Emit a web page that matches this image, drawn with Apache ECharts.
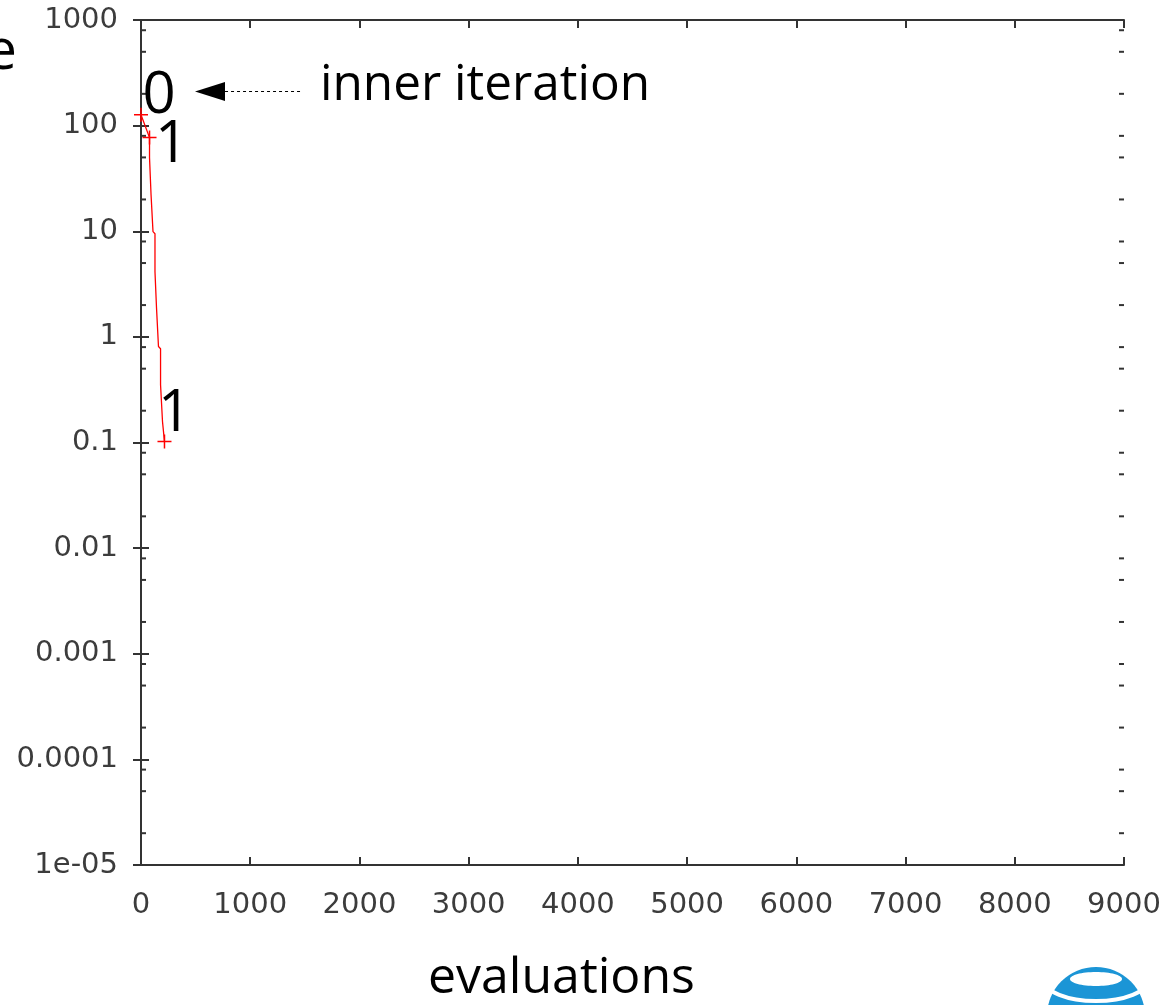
<!DOCTYPE html>
<html>
<head>
<meta charset="utf-8">
<script src="https://cdn.jsdelivr.net/npm/echarts@6/dist/echarts.min.js"></script>
<style>
html,body{margin:0;padding:0;background:#fff;}
#chart{width:1166px;height:1005px;}
</style>
</head>
<body>
<div id="chart"></div>
<script>
// ---- data ----
const evals  = [0, 78, 78, 92, 92, 110, 110, 128, 128, 142, 142, 160, 160, 179, 179, 197, 197, 211, 215];
const values = [127, 77, 49.8, 47.7, 22.2, 21.3, 9.91, 9.48, 4.14, 3.97, 1.89, 1.81, 0.81, 0.773, 0.352, 0.337, 0.157, 0.151, 0.102];
const markerEvals  = [0, 78, 215];
const markerValues = [127, 77, 0.102];
const markerLabels = ['0', '1', '1'];
const xTickLabels = ['0','1000','2000','3000','4000','5000','6000','7000','8000','9000'];
const yTickLabels = ['1e-05','0.0001','0.001','0.01','0.1','1','10','100','1000'];
const minorMultipliers = [2, 5, 8];
const arrowFrom = [1456, 210];
const arrowTo   = [632, 210];

const lineData = evals.map((x, i) => [x, values[i]]);
const labelOffsets = [[18, -18], [22, 8], [10, -27]];
const digitLabel = {
  show: true, position: 'inside',
  fontFamily: '"Open Sans", sans-serif', fontSize: 58, fontWeight: 500,
  color: '#000', textBorderWidth: 0, opacity: 1
};
const markerData = markerEvals.map((x, i) => ({
  value: [x, markerValues[i]],
  label: Object.assign({}, digitLabel, { formatter: markerLabels[i], offset: labelOffsets[i] })
}));
const minorData = [];
for (let k = -5; k < 3; k++) {
  minorMultipliers.forEach(m => minorData.push([0, m * Math.pow(10, k)]));
}

const axisColor = '#333';
const labelFont = { fontFamily: '"DejaVu Sans", sans-serif', fontSize: 29, color: '#3c3c3c' };

const chart = echarts.init(document.getElementById('chart'), null, { renderer: 'canvas' });
chart.setOption({
  animation: false,
  backgroundColor: '#fff',
  textStyle: { fontFamily: '"Open Sans", sans-serif' },
  grid: { left: 141, top: 20, right: 42, bottom: 140, containLabel: false },
  xAxis: [{
    type: 'value', min: 0, max: 9000, interval: 1000,
    axisLine: { show: true, lineStyle: { color: axisColor, width: 2 } },
    axisTick: { show: true, inside: true, length: 8, lineStyle: { color: axisColor, width: 2 } },
    axisLabel: Object.assign({ margin: 26, formatter: (v) => xTickLabels[Math.round(v / 1000)] }, labelFont),
    splitLine: { show: false }
  }, {
    type: 'value', min: 0, max: 9000, interval: 1000, position: 'top',
    axisLine: { show: true, lineStyle: { color: axisColor, width: 2 } },
    axisTick: { show: true, inside: true, length: 8, lineStyle: { color: axisColor, width: 2 } },
    axisLabel: { show: false },
    splitLine: { show: false }
  }],
  yAxis: [{
    type: 'log', logBase: 10, min: 1e-5, max: 1000, interval: 1,
    axisLine: { show: true, lineStyle: { color: axisColor, width: 2 } },
    axisTick: { show: true, inside: true, length: 8, lineStyle: { color: axisColor, width: 2 } },
    axisLabel: Object.assign({ margin: 23, formatter: (v) => yTickLabels[Math.round(Math.log10(v)) + 5] }, labelFont),
    splitLine: { show: false }
  }, {
    type: 'log', logBase: 10, min: 1e-5, max: 1000, interval: 1, position: 'right',
    axisLine: { show: true, lineStyle: { color: axisColor, width: 2 } },
    axisTick: { show: true, inside: true, length: 8, lineStyle: { color: axisColor, width: 2 } },
    axisLabel: { show: false },
    splitLine: { show: false }
  }],
  series: [{
    type: 'custom',
    silent: true,
    data: minorData,
    renderItem: function (params, api) {
      const v = api.value(1);
      const pL = api.coord([0, v]);
      const pR = api.coord([9000, v]);
      const st = { stroke: axisColor, lineWidth: 2 };
      return { type: 'group', children: [
        { type: 'line', shape: { x1: pL[0], y1: pL[1], x2: pL[0] + 5, y2: pL[1] }, style: st },
        { type: 'line', shape: { x1: pR[0] - 5, y1: pR[1], x2: pR[0], y2: pR[1] }, style: st }
      ]};
    },
    z: 1
  }, {
    type: 'line',
    data: lineData,
    showSymbol: false,
    symbol: 'none',
    lineStyle: { color: '#ff0000', width: 1.3 },
    z: 3,
    markLine: {
      silent: true,
      symbol: ['none', 'triangle'],
      symbolSize: [19, 30],
      lineStyle: { color: '#000', type: [3, 3], width: 1 },
      itemStyle: { color: '#000' },
      label: { show: false },
      data: [[{ coord: arrowFrom }, { coord: arrowTo }]]
    }
  }, {
    type: 'scatter',
    data: markerData,
    symbol: 'path://M5,0L5,10M0,5L10,5',
    symbolSize: 14,
    itemStyle: { color: 'none', borderColor: '#ff0000', borderWidth: 1.5, opacity: 1 },
    label: digitLabel,
    z: 4
  }],
  graphic: [
    { type: 'text', left: 320, top: 61, style: { text: 'inner iteration', font: '49.5px "Open Sans", sans-serif', fill: '#000' } },
    { type: 'text', left: 428, top: 954, style: { text: 'evaluations', font: '50px "Open Sans", sans-serif', fill: '#000' } },
    { type: 'text', x: 17, y: 53, style: { text: 'e', font: '56px "Open Sans", sans-serif', fill: '#000', align: 'right', verticalAlign: 'middle' } },
    { type: 'circle', shape: { cx: 1096, cy: 1016, r: 49 }, style: { fill: '#1b95d6' } },
    { type: 'ellipse', shape: { cx: 1096, cy: 979, rx: 26, ry: 7 }, style: { fill: '#fff' } },
    { type: 'ellipse', shape: { cx: 1096, cy: 980, rx: 52, ry: 21 }, style: { fill: 'none', stroke: '#fff', lineWidth: 4 } }
  ]
});
</script>
</body>
</html>
